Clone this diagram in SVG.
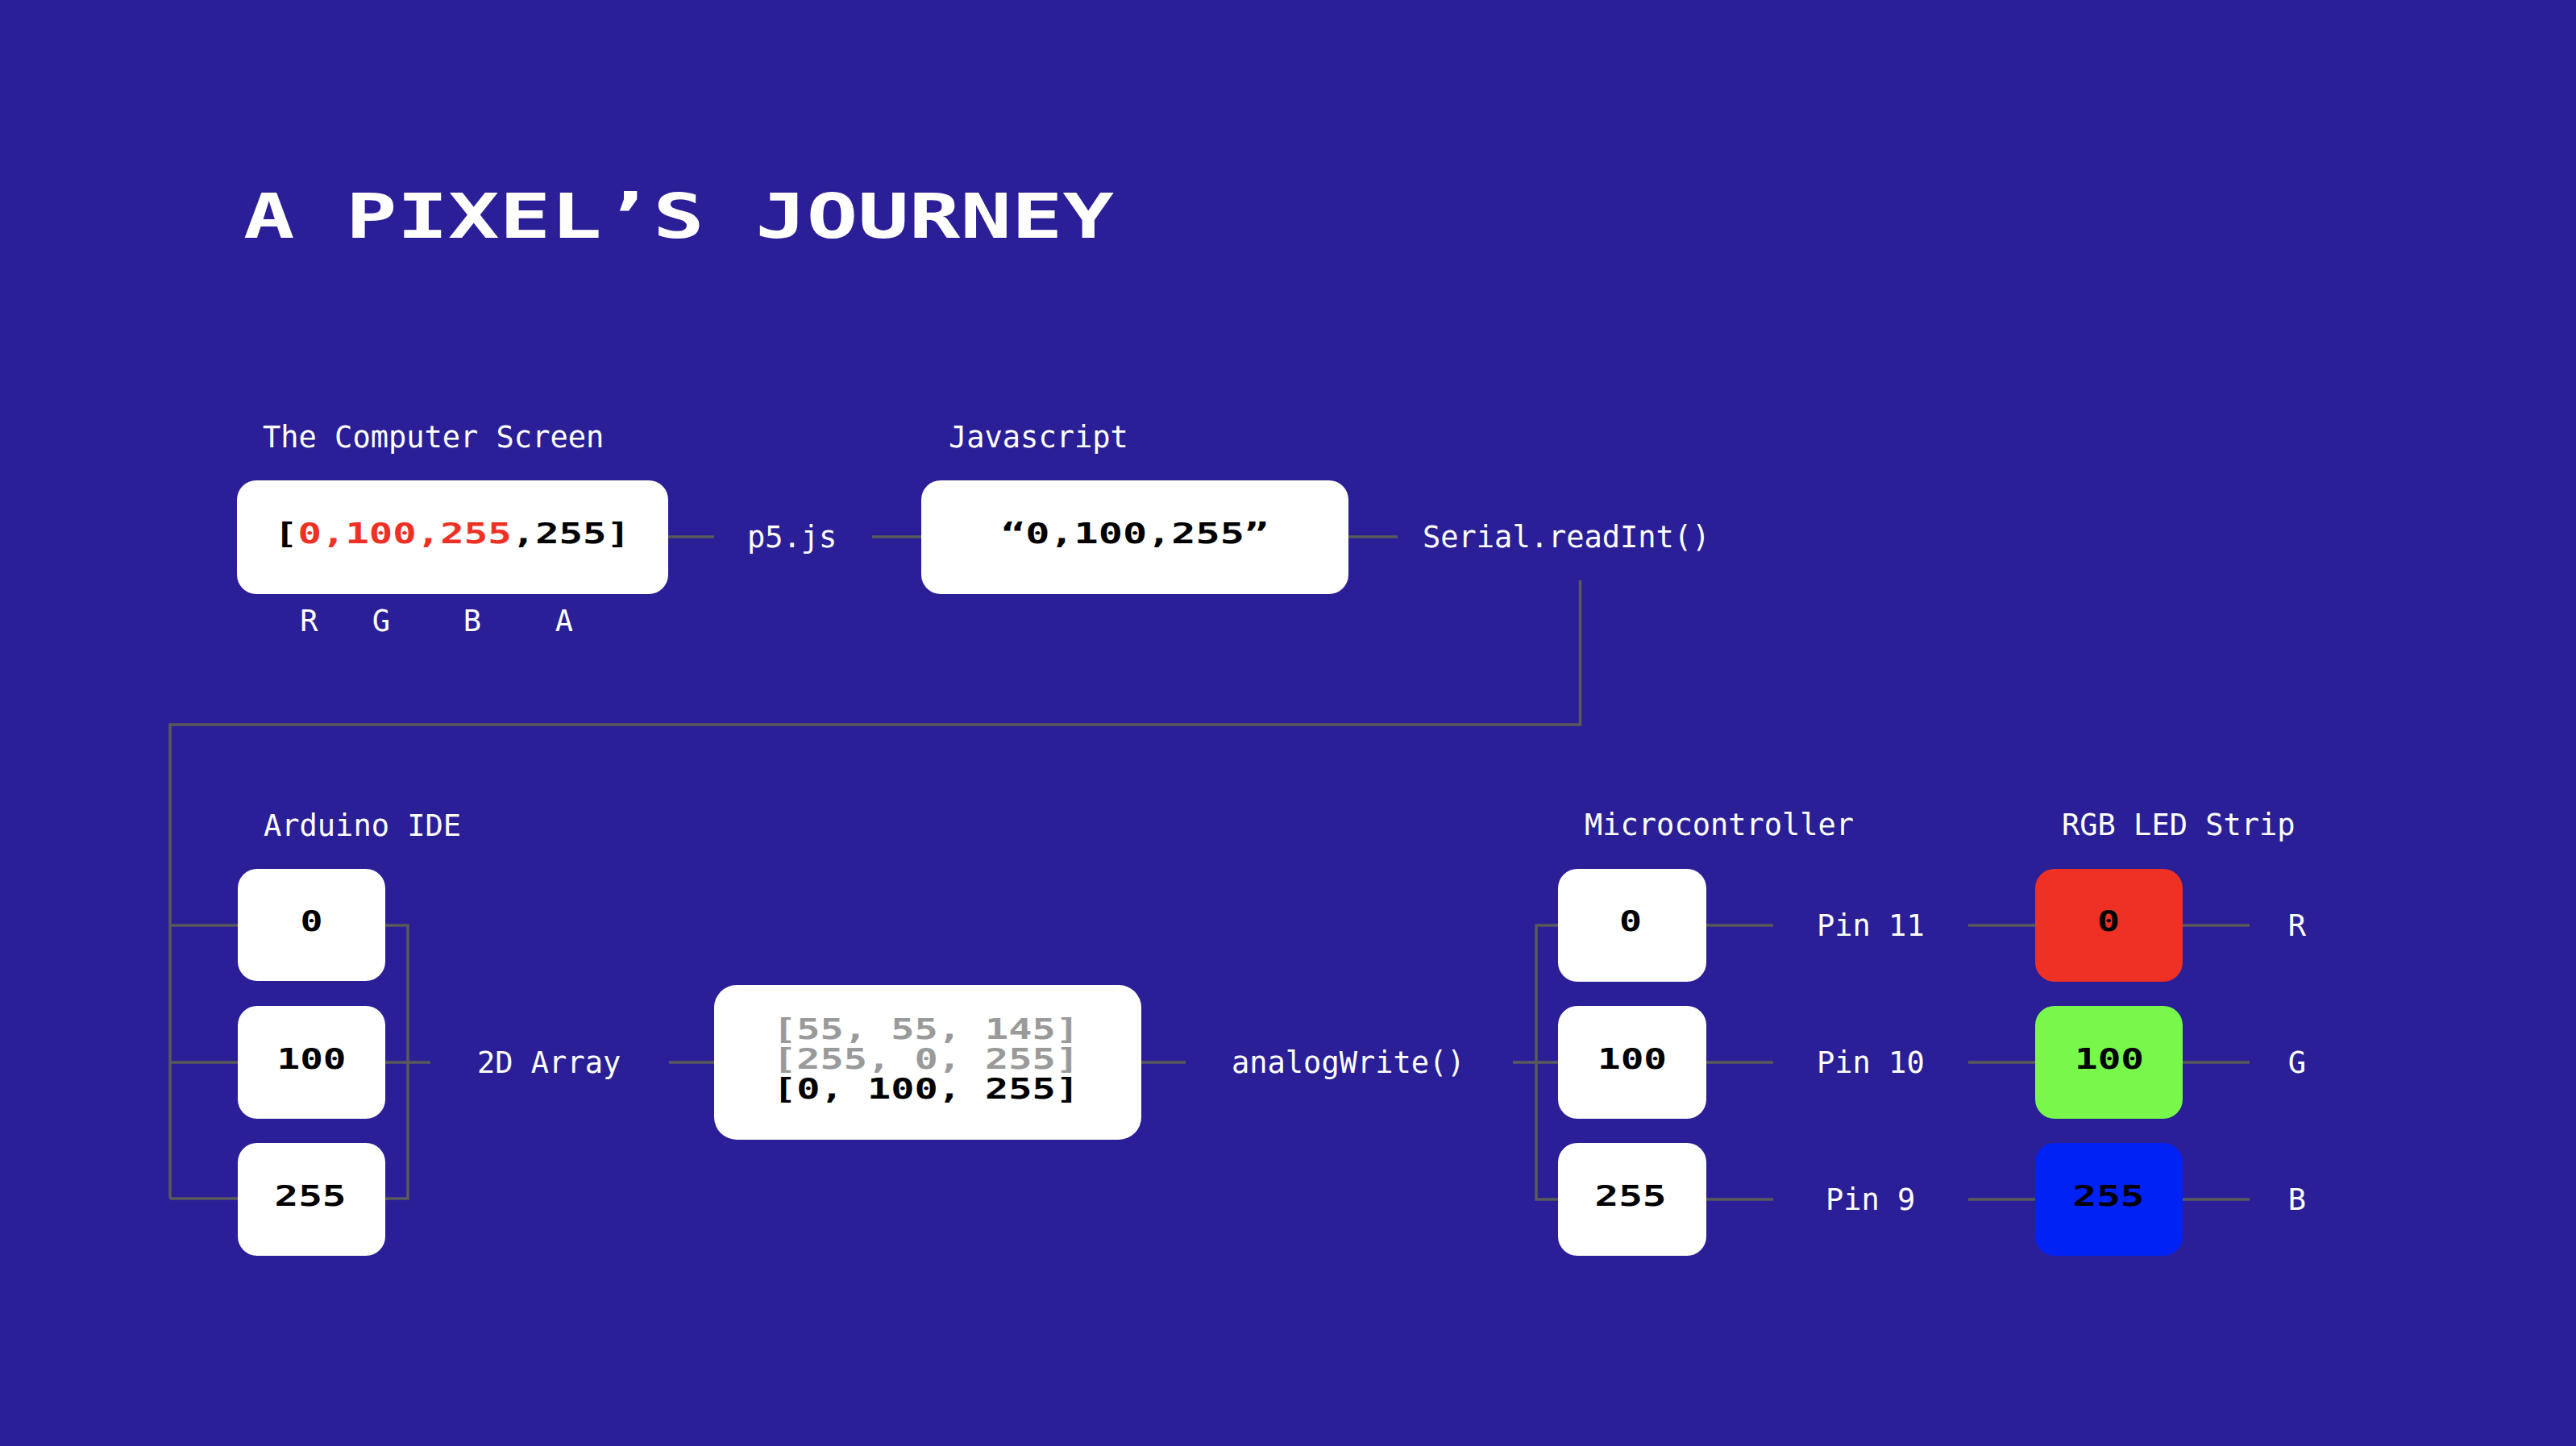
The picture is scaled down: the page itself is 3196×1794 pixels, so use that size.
<svg xmlns="http://www.w3.org/2000/svg" width="3196" height="1794" viewBox="0 0 3196 1794">
<defs>
<style>
.lbl{font-family:"DejaVu Sans Mono","Liberation Mono",monospace;font-size:37px;fill:#ffffff}
.pix{font-family:"DejaVu Sans Mono","Liberation Mono",monospace;font-weight:bold;font-size:35px;fill:#000000}
.box{fill:#ffffff}
.wire{fill:none;stroke:#5a5a5a;stroke-width:3.5;stroke-linejoin:miter;stroke-linecap:butt}
.red{fill:#ee3124}
.gray{fill:#9a9a9a}
</style>
</defs>
<rect x="0" y="0" width="3196" height="1794" fill="#2a1f96"/>
<text id="title" x="302" y="295" font-family="DejaVu Sans Mono, monospace" font-weight="bold" font-size="77" fill="#ffffff" textLength="1080" lengthAdjust="spacingAndGlyphs">A PIXEL’S JOURNEY</text>

<g id="connectors">
<path class="wire" d="M829 666 H886"/>
<path class="wire" d="M1082 666 H1143"/>
<path class="wire" d="M1673 666 H1734"/>
<path class="wire" d="M1960.5 720 V899 H211 V1487"/>
<path class="wire" d="M211 1148 H295 M211 1318 H295 M211 1487 H295"/>
<path class="wire" d="M478 1148 H506 V1487 H478 M478 1318 H534"/>
<path class="wire" d="M830 1318 H886"/>
<path class="wire" d="M1416 1318 H1471"/>
<path class="wire" d="M1877 1318 H1933"/>
<path class="wire" d="M1933 1148 H1906 V1488 H1933"/>
<path class="wire" d="M2117 1148 H2200 M2117 1318 H2200 M2117 1488 H2200"/>
<path class="wire" d="M2442 1148 H2525 M2442 1318 H2525 M2442 1488 H2525"/>
<path class="wire" d="M2708 1148 H2791 M2708 1318 H2791 M2708 1488 H2791"/>
<text class="lbl" x="927" y="679">p5.js</text>
<text class="lbl" x="1765" y="679">Serial.readInt()</text>
<text class="lbl" x="592" y="1331">2D Array</text>
<text class="lbl" x="1528" y="1331">analogWrite()</text>
<text class="lbl" x="2254" y="1161">Pin 11</text>
<text class="lbl" x="2254" y="1331">Pin 10</text>
<text class="lbl" x="2265" y="1501">Pin 9</text>
<text class="lbl" x="2850" y="1161" text-anchor="middle">R</text>
<text class="lbl" x="2850" y="1331" text-anchor="middle">G</text>
<text class="lbl" x="2850" y="1501" text-anchor="middle">B</text>
</g>

<g id="computer-screen">
<text class="lbl" x="326" y="555">The Computer Screen</text>
<rect class="box" x="294" y="596" width="535" height="141" rx="24"/>
<text class="pix" x="340" y="674" textLength="442" lengthAdjust="spacingAndGlyphs">[<tspan class="red">0,100,255</tspan>,255]</text>
<text class="lbl" x="383.5" y="783" font-size="35" text-anchor="middle">R</text>
<text class="lbl" x="473" y="783" font-size="35" text-anchor="middle">G</text>
<text class="lbl" x="586" y="783" font-size="35" text-anchor="middle">B</text>
<text class="lbl" x="700" y="783" font-size="35" text-anchor="middle">A</text>
</g>

<g id="javascript">
<text class="lbl" x="1177" y="555">Javascript</text>
<rect class="box" x="1143" y="596" width="530" height="141" rx="24"/>
<text class="pix" x="1242" y="674" textLength="332" lengthAdjust="spacingAndGlyphs">“0,100,255”</text>
</g>

<g id="arduino-ide">
<text class="lbl" x="327" y="1037">Arduino IDE</text>
<rect class="box" x="295" y="1078" width="183" height="139" rx="24"/>
<rect class="box" x="295" y="1248" width="183" height="140" rx="24"/>
<rect class="box" x="295" y="1418" width="183" height="140" rx="24"/>
<text class="pix" x="386.5" y="1155" text-anchor="middle" textLength="28" lengthAdjust="spacingAndGlyphs">0</text>
<text class="pix" x="386.5" y="1326" text-anchor="middle" textLength="86" lengthAdjust="spacingAndGlyphs">100</text>
<text class="pix" x="385" y="1496" text-anchor="middle" textLength="89" lengthAdjust="spacingAndGlyphs">255</text>
</g>

<g id="array-2d">
<rect class="box" x="886" y="1222" width="530" height="192" rx="28"/>
<text class="pix gray" x="959" y="1289" textLength="380" lengthAdjust="spacingAndGlyphs">[55, 55, 145]</text>
<text class="pix gray" x="959" y="1326" textLength="380" lengthAdjust="spacingAndGlyphs">[255, 0, 255]</text>
<text class="pix" x="959" y="1363" textLength="380" lengthAdjust="spacingAndGlyphs">[0, 100, 255]</text>
</g>

<g id="microcontroller">
<text class="lbl" x="1966" y="1036">Microcontroller</text>
<rect class="box" x="1933" y="1078" width="184" height="140" rx="24"/>
<rect class="box" x="1933" y="1248" width="184" height="140" rx="24"/>
<rect class="box" x="1933" y="1418" width="184" height="140" rx="24"/>
<text class="pix" x="2023" y="1155" text-anchor="middle" textLength="28" lengthAdjust="spacingAndGlyphs">0</text>
<text class="pix" x="2025" y="1326" text-anchor="middle" textLength="86" lengthAdjust="spacingAndGlyphs">100</text>
<text class="pix" x="2023" y="1496" text-anchor="middle" textLength="89" lengthAdjust="spacingAndGlyphs">255</text>
</g>

<g id="rgb-led-strip">
<text class="lbl" x="2558" y="1036">RGB LED Strip</text>
<rect x="2525" y="1078" width="183" height="140" rx="24" fill="#ee3124"/>
<rect x="2525" y="1248" width="183" height="140" rx="24" fill="#77f84b"/>
<rect x="2525" y="1418" width="183" height="140" rx="24" fill="#0022f5"/>
<text class="pix" x="2616" y="1155" text-anchor="middle" textLength="28" lengthAdjust="spacingAndGlyphs">0</text>
<text class="pix" x="2617" y="1326" text-anchor="middle" textLength="86" lengthAdjust="spacingAndGlyphs">100</text>
<text class="pix" x="2616" y="1496" text-anchor="middle" textLength="89" lengthAdjust="spacingAndGlyphs">255</text>
</g>
</svg>
